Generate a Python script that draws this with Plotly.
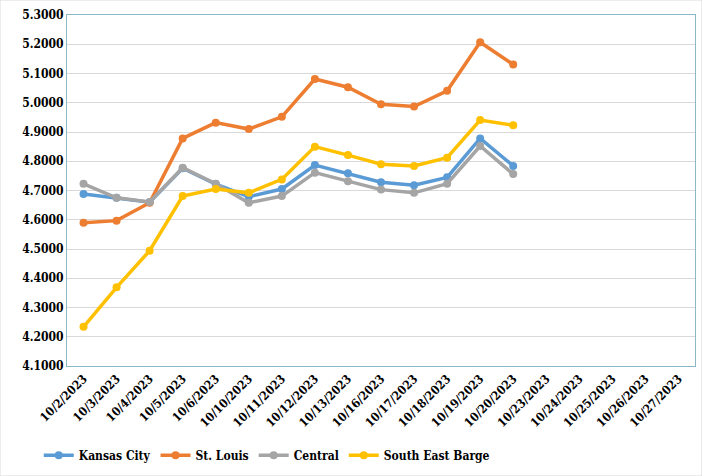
import plotly.graph_objects as go

dates = ["10/2/2023", "10/3/2023", "10/4/2023", "10/5/2023", "10/6/2023", "10/10/2023",
         "10/11/2023", "10/12/2023", "10/13/2023", "10/16/2023", "10/17/2023", "10/18/2023",
         "10/19/2023", "10/20/2023", "10/23/2023", "10/24/2023", "10/25/2023", "10/26/2023",
         "10/27/2023"]

kansas_city = [4.688, 4.675, 4.660, 4.776, 4.722, 4.679, 4.705, 4.787, 4.759, 4.728, 4.718, 4.745, 4.878, 4.784]
st_louis = [4.590, 4.597, 4.658, 4.878, 4.932, 4.910, 4.952, 5.081, 5.053, 4.995, 4.987, 5.041, 5.207, 5.131]
central = [4.723, 4.675, 4.661, 4.778, 4.723, 4.658, 4.681, 4.761, 4.732, 4.703, 4.692, 4.723, 4.852, 4.756]
south_east_barge = [4.234, 4.369, 4.494, 4.681, 4.705, 4.692, 4.738, 4.850, 4.821, 4.790, 4.784, 4.812, 4.941, 4.923]

series = [
    ("Kansas City", kansas_city, "#5B9BD5"),
    ("St. Louis", st_louis, "#ED7D31"),
    ("Central", central, "#A5A5A5"),
    ("South East Barge", south_east_barge, "#FFC000"),
]

font_family = "DejaVu Serif Condensed"

fig = go.Figure()
for name, vals, color in series:
    fig.add_trace(go.Scatter(
        x=dates[:len(vals)], y=vals, name=name, mode="lines+markers",
        line=dict(color=color, width=3.5),
        marker=dict(color=color, size=8),
    ))

fig.update_layout(
    width=702, height=476,
    margin=dict(l=67, r=7, t=15, b=110, autoexpand=False),
    paper_bgcolor="white", plot_bgcolor="white",
    font=dict(family=font_family, color="black"),
    showlegend=True,
    legend=dict(
        orientation="h", x=-0.045, xanchor="left", y=-0.254, yanchor="middle",
        font=dict(family=font_family, size=12, color="black", weight="bold"),
        itemwidth=30, tracegroupgap=0,
    ),
    xaxis=dict(
        type="category", categoryorder="array", categoryarray=dates,
        range=[-0.5, len(dates) - 0.5], automargin=False,
        tickangle=-45, showgrid=False,
        tickfont=dict(family=font_family, size=12, color="black", weight="bold"),
        showline=True, linecolor="#8CB7C7", mirror=True, linewidth=1,
        ticks="",
    ),
    yaxis=dict(
        range=[4.1, 5.3], dtick=0.1, tick0=4.1, tickformat=".4f", automargin=False,
        gridcolor="#D9D9D9", gridwidth=1,
        tickfont=dict(family=font_family, size=12, color="black", weight="bold"),
        showline=True, linecolor="#8CB7C7", mirror=True, linewidth=1,
        zeroline=False, ticks="", ticklen=0,
    ),
    shapes=[dict(type="rect", xref="paper", yref="paper", x0=-0.1067, x1=1.0111, y0=-0.3134, y1=1.0427,
                 line=dict(color="#D9D9D9", width=1), fillcolor="rgba(0,0,0,0)", layer="below")],
)

fig.write_html("out.html", config={"displayModeBar": False},
               post_script="document.body.style.margin='0';")
